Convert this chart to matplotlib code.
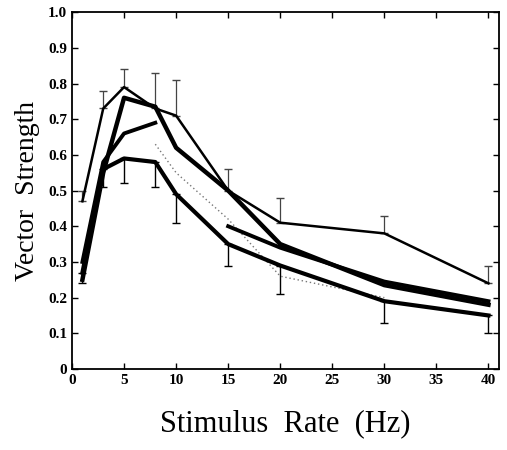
import numpy as np
import matplotlib.pyplot as plt
from matplotlib.ticker import FuncFormatter

# ----------------------------------------------------
# Data
# ----------------------------------------------------

rate = [1, 3, 5, 8, 10, 15, 20, 30, 40]

vs_a = [0.47, 0.73, 0.79, 0.73, 0.71, 0.50, 0.41, 0.38, 0.24]
vs_b = [0.25, 0.55, 0.76, 0.735, 0.62, 0.50, 0.35, 0.235, 0.18]
vs_d = [0.27, 0.56, 0.59, 0.58, 0.49, 0.35, 0.29, 0.19, 0.15]

rate_c1 = [1, 3, 5, 8]
vs_c1 = [0.30, 0.58, 0.66, 0.69]
rate_c2 = [15, 20, 30, 40]
vs_c2 = [0.40, 0.34, 0.245, 0.19]

rate_e = [8, 10, 15, 20, 30]
vs_e = [0.63, 0.55, 0.42, 0.26, 0.20]

# upper error bars (dotted) on the top series
err_a_up = [0.03, 0.05, 0.05, 0.10, 0.10, 0.06, 0.07, 0.05, 0.05]
# lower error bars (solid) on the bottom series
err_d_lo = [0.03, 0.05, 0.07, 0.07, 0.08, 0.06, 0.08, 0.06, 0.05]

x_ticks = [0, 5, 10, 15, 20, 25, 30, 35, 40]
y_ticks = [0, 0.1, 0.2, 0.3, 0.4, 0.5, 0.6, 0.7, 0.8, 0.9, 1.0]

# ----------------------------------------------------
# Figure
# ----------------------------------------------------

fig = plt.figure(figsize=(5.07, 4.5), dpi=100)
ax = fig.add_axes([0.142, 0.18, 0.842, 0.793])

ax.errorbar(rate, vs_a, yerr=[np.zeros(len(rate)), err_a_up],
            fmt="none", ecolor="#444444", elinewidth=0.9,
            capsize=3, linestyle=":")
ax.errorbar(rate, vs_d, yerr=[err_d_lo, np.zeros(len(rate))],
            fmt="none", ecolor="black", elinewidth=1.0, capsize=3)

ax.plot(rate_e, vs_e, color="#777777", lw=1.0, linestyle=(0, (1, 2)))
ax.plot(rate, vs_a, color="black", lw=1.8)
ax.plot(rate, vs_b, color="black", lw=3.2)
ax.plot(rate_c1, vs_c1, color="black", lw=2.8)
ax.plot(rate_c2, vs_c2, color="black", lw=2.8)
ax.plot(rate, vs_d, color="black", lw=3.0)

# ----------------------------------------------------
# Axes styling
# ----------------------------------------------------

ax.set_xlim(0, 41)
ax.set_ylim(0, 1.0)
ax.set_xticks(x_ticks)
ax.set_yticks(y_ticks)
ax.yaxis.set_major_formatter(
    FuncFormatter(lambda v, p: "0" if v == 0 else f"{v:.1f}")
)
ax.tick_params(direction="in", top=True, right=True, length=4,
               width=1, labelsize=11)

for lab in ax.get_xticklabels() + ax.get_yticklabels():
    lab.set_fontfamily("Liberation Serif")
    lab.set_fontweight("bold")

for sp in ax.spines.values():
    sp.set_linewidth(1.3)

ax.set_xlabel("Stimulus  Rate  (Hz)", fontfamily="Liberation Serif",
              fontsize=22, labelpad=16)
ax.set_ylabel("Vector  Strength", fontfamily="Liberation Serif",
              fontsize=20, labelpad=6)

plt.savefig("out.png", dpi=100)
plt.close()
